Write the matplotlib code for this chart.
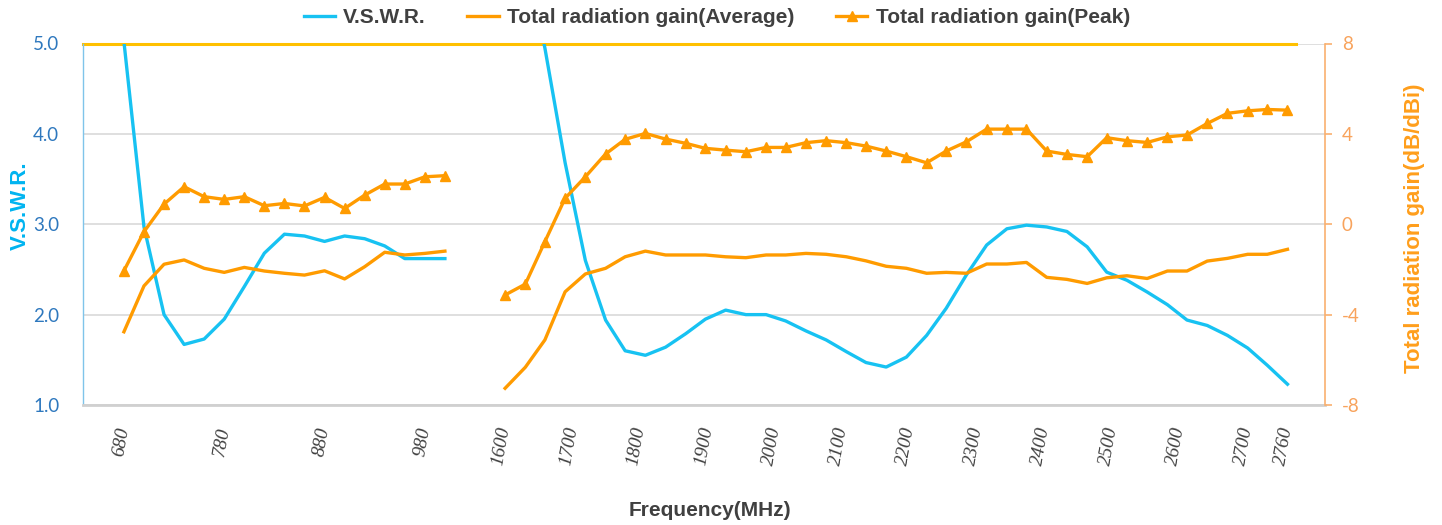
import numpy as np
import matplotlib
matplotlib.use("Agg")
import matplotlib.pyplot as plt
from matplotlib.lines import Line2D

# ---------------- data ----------------
low_freq = [680, 700, 720, 740, 760, 780, 800, 820, 840, 860, 880, 900, 920, 940, 960, 980, 1000]
low_vswr = [5.02, 2.97, 2.00, 1.67, 1.73, 1.95, 2.31, 2.68, 2.89, 2.87, 2.81, 2.87, 2.84, 2.76, 2.62, 2.62, 2.62]
low_avg = [-4.76, -2.73, -1.77, -1.58, -1.95, -2.13, -1.91, -2.07, -2.17, -2.25, -2.06, -2.42, -1.88,
           -1.24, -1.36, -1.29, -1.19]
low_peak = [-2.06, -0.33, 0.89, 1.66, 1.22, 1.10, 1.22, 0.82, 0.92, 0.81, 1.19, 0.70, 1.29,
            1.78, 1.78, 2.10, 2.15]

high_freq = [1600, 1630, 1659, 1689, 1719, 1749, 1778, 1808, 1838, 1868, 1897, 1927, 1957, 1987,
             2016, 2046, 2076, 2106, 2135, 2165, 2195, 2225, 2254, 2284, 2314, 2344, 2373, 2403,
             2433, 2463, 2492, 2522, 2552, 2582, 2611, 2641, 2671, 2701, 2730, 2760]
high_vswr = [8.00, 6.00, 4.95, 3.68, 2.60, 1.94, 1.60, 1.55, 1.64, 1.79, 1.95, 2.05, 2.00, 2.00,
             1.93, 1.82, 1.72, 1.59, 1.47, 1.42, 1.53, 1.77, 2.07, 2.44, 2.77, 2.95, 2.99, 2.97,
             2.92, 2.75, 2.47, 2.38, 2.25, 2.11, 1.94, 1.88, 1.77, 1.63, 1.44, 1.23]
high_avg = [-7.26, -6.33, -5.12, -2.99, -2.20, -1.95, -1.44, -1.19, -1.36, -1.36, -1.36, -1.44,
            -1.48, -1.36, -1.36, -1.29, -1.33, -1.44, -1.62, -1.86, -1.95, -2.17, -2.13, -2.17,
            -1.76, -1.76, -1.69, -2.35, -2.44, -2.62, -2.37, -2.28, -2.40, -2.07, -2.07, -1.63,
            -1.51, -1.33, -1.33, -1.11]
high_peak = [-3.13, -2.65, -0.77, 1.15, 2.10, 3.11, 3.76, 4.02, 3.77, 3.58, 3.36, 3.28, 3.21,
             3.40, 3.40, 3.61, 3.70, 3.61, 3.46, 3.24, 2.99, 2.72, 3.24, 3.65, 4.21, 4.21, 4.21,
             3.24, 3.09, 2.99, 3.83, 3.70, 3.62, 3.87, 3.95, 4.46, 4.91, 5.02, 5.08, 5.05]

xtick_vals = [680, 780, 880, 980, 1600, 1700, 1800, 1900, 2000, 2100, 2200, 2300, 2400, 2500,
              2600, 2700, 2760]
xtick_labels = [str(v) for v in xtick_vals]
vswr_ticks = [1.0, 2.0, 3.0, 4.0, 5.0]
gain_ticks = [-8, -4, 0, 4, 8]

# ---------------- styles ----------------
C_VSWR = "#17C2F2"
C_GAIN = "#FF9B00"
C_TXT = "#404040"


def fwd(f):
    f = np.asarray(f, dtype=float)
    return np.where(f <= 1000, (f - 680) / 20.0,
                    np.where(f <= 1600, 16 + (f - 1000) * 3.0 / 600.0,
                             19 + (f - 1600) * 39.0 / 1160.0))


def inv(u):
    u = np.asarray(u, dtype=float)
    return np.where(u <= 16, 680 + 20.0 * u,
                    np.where(u <= 19, 1000 + (u - 16) * 200.0,
                             1600 + (u - 19) * 1160.0 / 39.0))


fig = plt.figure(figsize=(14.42, 5.25), dpi=100)
fig.patch.set_facecolor("white")
L, R, B, T = 83 / 1442, 1325 / 1442, 1 - 405 / 525, 1 - 43.5 / 525
ax = fig.add_axes([L, B, R - L, T - B])
ax.set_xscale("function", functions=(fwd, inv))
ax2 = ax.twinx()

ax.set_xlim(float(inv(-2.04)), float(inv(59.87)))
ax.set_ylim(1.0, 5.0)
ax2.set_ylim(-8, 8)

# grid
for v in vswr_ticks:
    ax.axhline(v, color="#D9D9D9", lw=1.2, zorder=0)
ax.axhline(5.0, xmin=0, xmax=(1296 - 83) / (1325 - 83), color="#FFC000", lw=2.2, zorder=1,
           clip_on=False)

# VSWR
ax.plot(low_freq, low_vswr, color=C_VSWR, lw=2.4, solid_joinstyle="round", zorder=3)
ax.plot(high_freq, high_vswr, color=C_VSWR, lw=2.4, solid_joinstyle="round", zorder=3)

# gains
for fr, av, pk in [(low_freq, low_avg, low_peak), (high_freq, high_avg, high_peak)]:
    ax2.plot(fr, av, color=C_GAIN, lw=2.4, solid_joinstyle="round", zorder=3)
    ax2.plot(fr, pk, color=C_GAIN, lw=2.4, marker="^", ms=6.5, mec=C_GAIN, mfc=C_GAIN,
             solid_joinstyle="round", zorder=3)

# axes styling
for a in (ax, ax2):
    a.spines["top"].set_visible(False)
ax.spines["right"].set_visible(False)
ax2.spines["left"].set_visible(False)
ax2.spines["bottom"].set_visible(False)
ax.spines["left"].set_color("#7FC4EA")
ax.spines["left"].set_linewidth(1.0)
ax.spines["bottom"].set_color("#D0D0D0")
ax.spines["bottom"].set_linewidth(2.0)
ax2.spines["right"].set_color("#F9B070")
ax2.spines["right"].set_linewidth(1.2)

ax.set_yticks(vswr_ticks)
ax.set_yticklabels([f"{v:.1f}" for v in vswr_ticks], fontfamily="Lato", fontsize=13.5,
                   color="#2E78BE")
ax.tick_params(axis="y", length=0, pad=17)

ax2.set_yticks(gain_ticks)
ax2.set_yticklabels([str(v) for v in gain_ticks], fontfamily="Lato", fontsize=13.5,
                    color="#F8A35C")
ax2.tick_params(axis="y", length=5, width=1.2, color="#F9B070", pad=7, direction="out")

ax.set_xticks(xtick_vals)
ax.set_xticklabels(xtick_labels, rotation=80, ha="right", va="center",
                   rotation_mode="anchor", fontfamily="Liberation Serif", style="italic",
                   fontsize=14, color=C_TXT)
ax.xaxis.set_minor_locator(matplotlib.ticker.NullLocator())
ax.tick_params(axis="x", length=0, pad=16)

ax.set_ylabel("V.S.W.R.", fontfamily="Liberation Sans", fontweight="bold", fontsize=16,
              color="#00B4F0", labelpad=4)
ax.yaxis.set_label_coords(-0.042, 0.55)
ax2.set_ylabel("Total radiation gain(dB/dBi)", fontfamily="Liberation Sans",
               fontweight="bold", fontsize=16, color="#FF9E1B", labelpad=4)
ax2.yaxis.set_label_coords(1.064, 0.49)
ax.set_xlabel("Frequency(MHz)", fontfamily="Liberation Sans", fontweight="bold",
              fontsize=15, color=C_TXT)
ax.xaxis.set_label_coords(0.5045, -0.266)

handles = [
    Line2D([], [], color=C_VSWR, lw=2.4),
    Line2D([], [], color=C_GAIN, lw=2.4),
    Line2D([], [], color=C_GAIN, lw=2.4, marker="^", ms=6.5),
]
labels = ["V.S.W.R.", "Total radiation gain(Average)", "Total radiation gain(Peak)"]
leg = fig.legend(handles, labels, loc="center", bbox_to_anchor=(0.497, 0.966), ncol=3,
                 frameon=False, handlelength=1.5, handletextpad=0.4, columnspacing=2.0,
                 prop={"family": "Liberation Sans", "weight": "bold", "size": 15})
for t in leg.get_texts():
    t.set_color(C_TXT)

fig.savefig("out.png", dpi=100, facecolor="white")
